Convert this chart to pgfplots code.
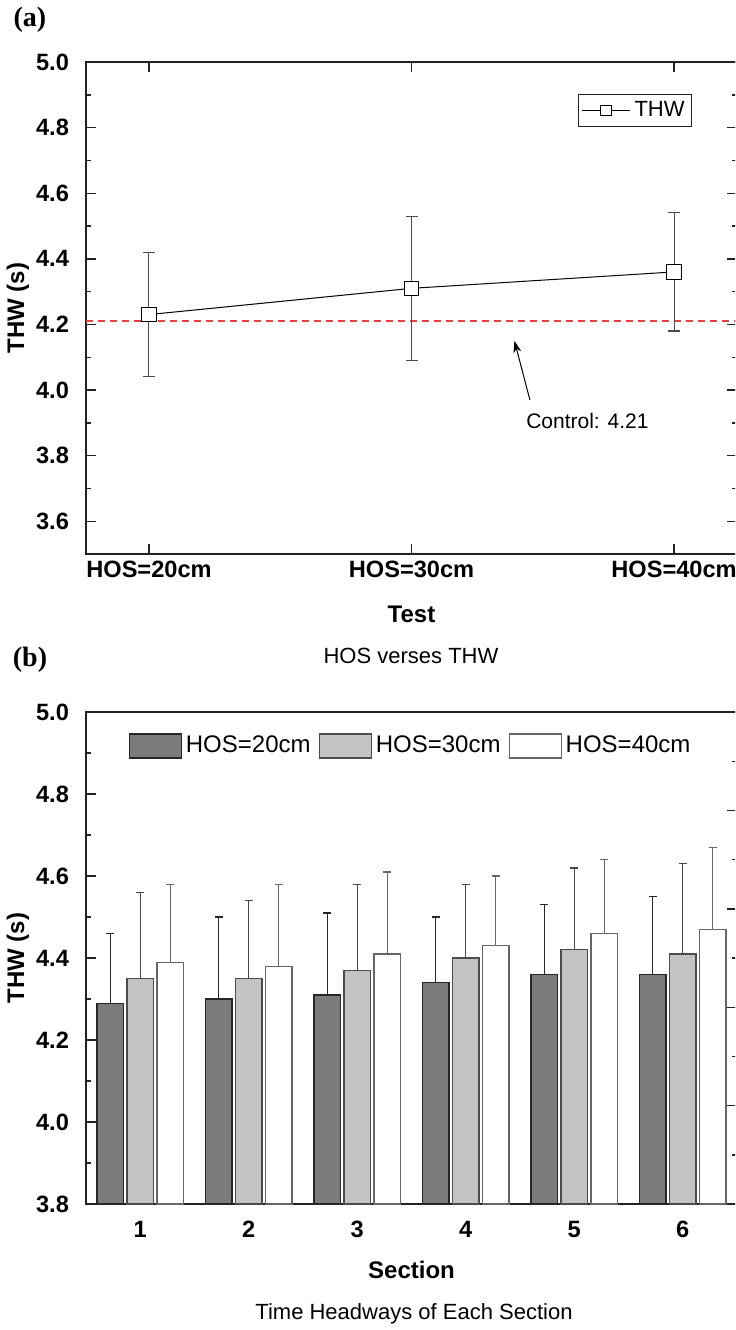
\documentclass[border=0pt]{standalone}
\usepackage{pgfplots}
\pgfplotsset{compat=1.18}
\usepackage{pgfplotstable}
\usepackage{fontspec}
\setmainfont{Liberation Sans}
\newfontfamily\serifb{Liberation Serif}
\usetikzlibrary{arrows.meta}

\definecolor{axc}{HTML}{222222}
\definecolor{ctrl}{HTML}{E8403F}
\definecolor{darkbar}{HTML}{7B7B7B}
\definecolor{lightbar}{HTML}{C3C3C3}

\pgfplotstableread{
x y e
1 4.23 0.19
2 4.31 0.22
3 4.36 0.18
}\thwtab

\pgfplotstableread{
x a ea b eb c ec
1 4.29 0.17 4.35 0.21 4.39 0.19
2 4.30 0.20 4.35 0.19 4.38 0.20
3 4.31 0.20 4.37 0.21 4.41 0.20
4 4.34 0.16 4.40 0.18 4.43 0.17
5 4.36 0.17 4.42 0.20 4.46 0.18
6 4.36 0.19 4.41 0.22 4.47 0.20
}\bartab

\pgfplotsset{
  common/.style={
    scale only axis, width=325.5pt, height=246pt,
    tick align=inside, major tick length=5pt, minor tick length=2.5pt,
    axis line style={line width=0.8pt, color=axc},
    every tick/.style={axc, line width=0.7pt},
    /pgf/number format/assume math mode=true,
    tick label style={font=\fontsize{11.8}{14}\selectfont\bfseries, text=black},
    yticklabel style={xshift=-5pt, /pgf/number format/fixed, /pgf/number format/fixed zerofill, /pgf/number format/precision=1},
    every axis y label/.style={at={(axis description cs:0,0.5)}, xshift=-34pt, rotate=90, anchor=center,
      font=\fontsize{12}{14}\selectfont\bfseries},
  },
  xlab/.style={every axis x label/.style={at={(axis description cs:0.5,0)}, anchor=center, yshift=-#1,
      font=\fontsize{12}{14}\selectfont\bfseries}},
}

\begin{document}
\begin{tikzpicture}
\useasboundingbox (0,0) rectangle (367.5pt,-665pt);
\clip (0,0) rectangle (367.5pt,-665pt);

% ---------------- (a) ----------------
\begin{axis}[common, xlab=30pt,
  at={(43pt,-31pt)}, anchor=north west,
  xmin=0.76, xmax=3.24, ymin=3.5, ymax=5.0,
  xtick={1,2,3}, xticklabels={HOS=20cm,HOS=30cm,HOS=40cm},
  ytick={3.6,3.8,4.0,4.2,4.4,4.6,4.8,5.0},
  minor ytick={3.7,3.9,4.1,4.3,4.5,4.7,4.9},
  xlabel={Test}, ylabel={THW (s)},
  legend style={at={(0.931,0.935)}, anchor=north east, draw=axc, line width=0.5pt,
    font=\fontsize{11}{13}\selectfont, inner sep=1.5pt, legend cell align=left},
  legend image code/.code={\draw[#1, mark size=2.6pt, mark repeat=2, mark phase=2] plot coordinates {(0cm,0cm) (0.42cm,0cm) (0.84cm,0cm)};},
]
\addplot[forget plot, color=ctrl, line width=0.9pt, dash pattern=on 3.5pt off 2.5pt]
  coordinates {(0.76,4.21) (3.24,4.21)};
\addplot[black, line width=0.5pt, mark=square*,
  mark options={fill=white, draw=black, line width=0.6pt, solid}, mark size=3.6pt,
  error bars/.cd, y dir=both, y explicit,
  error bar style={color=black!70, line width=0.5pt},
  error mark options={rotate=90, mark size=3pt, color=black!70, line width=0.6pt}]
  table[x=x, y=y, y error=e] {\thwtab};
\addlegendentry{THW}
\draw[-{Stealth[length=6pt,width=4pt]}, line width=0.5pt] (axis cs:2.451,3.97) -- (axis cs:2.392,4.15);
\node[font=\fontsize{10.5}{12}\selectfont] at (axis cs:2.67,3.905) {Control: 4.21};
\end{axis}

% ---------------- (b) ----------------
\begin{axis}[common, xlab=33pt,
  at={(43pt,-356pt)}, anchor=north west,
  xmin=0.5, xmax=6.5, ymin=3.8, ymax=5.0,
  ybar=1.75pt, bar width=13.25pt,
  xtick={1,2,3,4,5,6}, xtick style={draw=none},
  ytick={3.8,4.0,4.2,4.4,4.6,4.8,5.0},
  minor ytick={3.9,4.1,4.3,4.5,4.7,4.9},
  ytick pos=left,
  xlabel={Section}, ylabel={THW (s)},
  legend columns=3,
  legend style={at={(0.065,0.931)}, anchor=west, draw=none, fill=none,
    font=\fontsize{12}{14}\selectfont, inner sep=0pt,
    /tikz/every even column/.append style={column sep=2pt}},
  legend image code/.code={\draw[#1] (0pt,-6pt) rectangle (26pt,6pt);},
]
\addplot[fill=darkbar, draw=black!85, line width=0.6pt,
  error bars/.cd, y dir=plus, y explicit,
  error bar style={color=black!85, line width=0.6pt},
  error mark options={rotate=90, mark size=2pt, color=black!85, line width=0.7pt}]
  table[x=x, y=a, y error=ea] {\bartab};
\addlegendentry{HOS=20cm}
\addplot[fill=lightbar, draw=black!70, line width=0.6pt,
  error bars/.cd, y dir=plus, y explicit,
  error bar style={color=black!72, line width=0.6pt},
  error mark options={rotate=90, mark size=2pt, color=black!72, line width=0.7pt}]
  table[x=x, y=b, y error=eb] {\bartab};
\addlegendentry{HOS=30cm}
\addplot[fill=white, draw=black!60, line width=0.6pt,
  error bars/.cd, y dir=plus, y explicit,
  error bar style={color=black!60, line width=0.6pt},
  error mark options={rotate=90, mark size=2pt, color=black!60, line width=0.7pt}]
  table[x=x, y=c, y error=ec] {\bartab};
\addlegendentry{HOS=40cm}
\end{axis}

% right-hand ticks of (b)
\begin{axis}[common,
  at={(43pt,-356pt)}, anchor=north west,
  xmin=0.5, xmax=6.5, ymin=3.8, ymax=5.0,
  axis line style={draw=none}, xtick=\empty,
  ytick pos=right,
  ytick={4.04,4.28,4.52,4.76}, minor ytick={3.92,4.16,4.40,4.64,4.88},
  yticklabels={},
]
\end{axis}

% ---------------- texts ----------------
\node[font=\serifb\bfseries\fontsize{14}{16}\selectfont] at (15pt,-10pt) {(a)};
\node[font=\serifb\bfseries\fontsize{14}{16}\selectfont] at (15pt,-330pt) {(b)};
\node[font=\fontsize{11}{13}\selectfont] at (205.5pt,-328pt) {HOS verses THW};
\node[font=\fontsize{11}{13}\selectfont] at (207pt,-657pt) {Time Headways of Each Section};
\end{tikzpicture}
\end{document}
